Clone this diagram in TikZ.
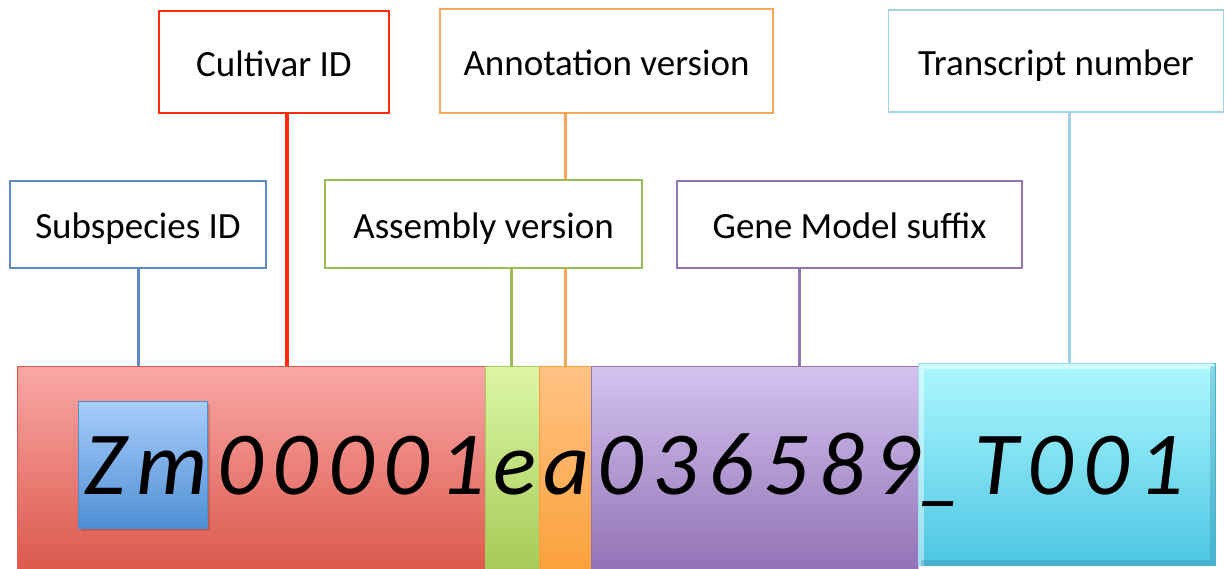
\documentclass[tikz,border=0pt]{standalone}
\usepackage{fontspec}
\setmainfont{Carlito}
\usetikzlibrary{backgrounds}

\definecolor{subc}{HTML}{5B8CC6}
\definecolor{cultc}{HTML}{FF2A0A}
\definecolor{asmc}{HTML}{9BBB59}
\definecolor{annc}{HTML}{F8A65A}
\definecolor{gmsc}{HTML}{9076B8}
\definecolor{trnc}{HTML}{A3D4E4}
% strip shading, top and bottom
\definecolor{cultt}{HTML}{F9A7A5}\definecolor{cultb}{HTML}{DC5A4E}
\definecolor{asmt}{HTML}{DDF6A6}\definecolor{asmb}{HTML}{A6CB58}
\definecolor{annt}{HTML}{FFC385}\definecolor{annb}{HTML}{FBA13C}
\definecolor{gmst}{HTML}{D4C3EF}\definecolor{gmsb}{HTML}{9373B7}
\definecolor{trnt}{HTML}{AEF8FF}\definecolor{trnb}{HTML}{4CC5E2}
\definecolor{subt}{HTML}{A9CDFB}\definecolor{subb}{HTML}{4E8FD4}

\newcommand\pu{0.5pt}

\begin{document}
\begin{tikzpicture}[x=0.5pt, y=-0.5pt,
    tag/.style={draw=#1, fill=white, line width=0.8pt, inner sep=0pt,
      text height=16pt, text depth=1.6pt, font=\fontsize{18.5}{22}\selectfont},
    seg/.style={draw=#1b, line width=0.5pt, top color=#1t, bottom color=#1b,
      minimum height=202*\pu, inner sep=0pt},
    code/.style={anchor=base, inner sep=0pt,
      font=\fontsize{45}{50}\selectfont\itshape\addfontfeatures{LetterSpace=11}}]
  \useasboundingbox (0,0) rectangle (1225,568);

  % the ID strip
  \node[seg=cult, minimum width=468*\pu] (cult-seg) at (251,467) {};
  \node[seg=asm, minimum width=54*\pu] (asm-seg) at (512,467) {};
  \node[seg=ann, minimum width=52*\pu] (ann-seg) at (565,467) {};
  \node[seg=gms, minimum width=327*\pu] (gms-seg) at (754.5,467) {};
  \node[seg=trn, minimum width=297*\pu] (trn-seg) at (1066.5,464) {};
  \draw[white, opacity=.45, line width=3pt]
    ([shift={(3,3)}]trn-seg.south west) -- ([shift={(3,3)}]trn-seg.north west)
    -- ([shift={(-3,3)}]trn-seg.north east);
  \draw[trnb!70!black, opacity=.3, line width=3pt]
    ([shift={(-3,3)}]trn-seg.north east) -- ([shift={(-3,-3)}]trn-seg.south east)
    -- ([shift={(3,-3)}]trn-seg.south west);
  \fill[black, opacity=.15] (81,404) rectangle (210,531);
  \node[seg=sub, minimum width=129*\pu, minimum height=127*\pu] (sub-seg) at (142.5,464.5) {};

  % the ID text, one piece per segment
  \node[code] (sub-txt) at (146,494) {Zm};
  \node[code] (cult-txt) at (351,494) {00001};
  \node[code] (asm-txt) at (515,494) {e};
  \node[code] (ann-txt) at (567,494) {a};
  \node[code] (gms-txt) at (759,494) {036589};
  \node[code] (trn-txt) at (1052,494) {\_T001};

  % labels
  \node[tag=subc, minimum width=256*\pu, minimum height=87*\pu] (sub) at (138,224.5) {Subspecies ID};
  \node[tag=cultc, minimum width=230*\pu, minimum height=102*\pu] (cult) at (274,62) {Cultivar ID};
  \node[tag=asmc, minimum width=317*\pu, minimum height=88*\pu] (asm) at (483.5,224) {Assembly version};
  \node[tag=annc, minimum width=333*\pu, minimum height=104*\pu] (ann) at (606.5,61) {Annotation version};
  \node[tag=gmsc, minimum width=345*\pu, minimum height=87*\pu] (gms) at (849.5,224.5) {Gene Model suffix};
  \node[tag=trnc, minimum width=335*\pu, minimum height=102*\pu] (trn) at (1056,61) {Transcript number};

  % connectors
  \begin{scope}[on background layer]
    \draw[subc, line width=1.5pt] (sub) -- (sub |- sub-seg.north);
    \foreach \n/\x/\w in {cult/287/2, asm/511/1.5, ann/565/1.5, gms/799/1.5, trn/1069/1.5}
      \draw[\n c, line width=\w pt] (\x,0 |- \n.south) -- (\x,0 |- \n-seg.north);
  \end{scope}
\end{tikzpicture}
\end{document}
